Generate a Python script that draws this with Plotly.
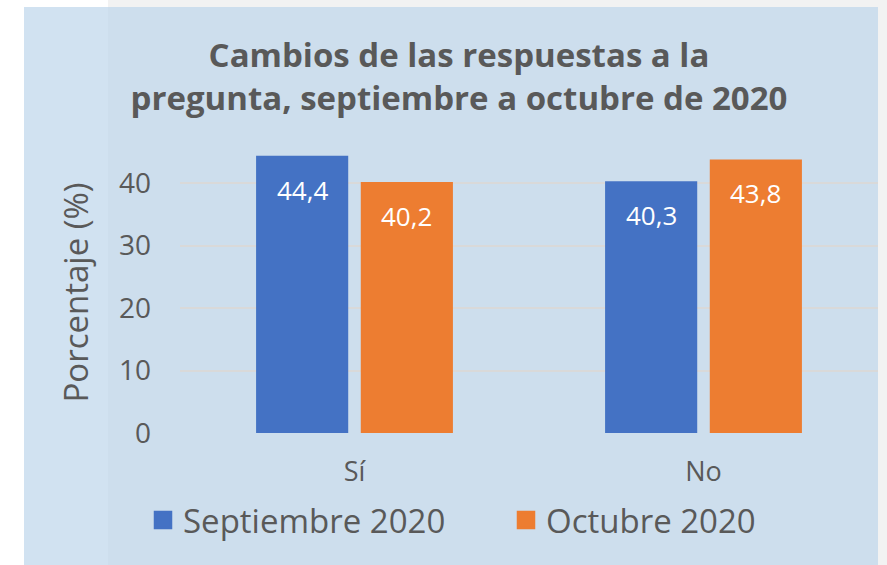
import plotly.graph_objects as go

categories = ["Sí", "No"]
series_names = ["Septiembre 2020", "Octubre 2020"]
sept_values = [44.4, 40.3]
oct_values = [40.2, 43.8]
y_ticks = [0, 10, 20, 30, 40]

colors = ["#4472C4", "#ED7D31"]
W, H = 887, 565
L, R, T, B = 180, 9, 152, 132
pw, ph = W - L - R, H - T - B

def px_x(p):
    return (p - L) / pw

def px_y(p):
    return (H - B - p) / ph

fig = go.Figure()
for name, vals, col in zip(series_names, [sept_values, oct_values], colors):
    fig.add_trace(go.Bar(x=categories, y=vals, name=name, marker_color=col,
                         marker_line_width=0, showlegend=False, hoverinfo="skip"))
# legend proxies
for name, col in zip(series_names, colors):
    fig.add_trace(go.Scatter(x=[None], y=[None], mode="markers", name=name,
                             marker=dict(symbol="square", size=16, color=col,
                                         line=dict(color=col, width=2.5))))

font_fam = "Open Sans, Noto Sans, sans-serif"
annotations = []
offsets = [-52, 52]
for vals, off in zip([sept_values, oct_values], offsets):
    for c, v in zip(categories, vals):
        annotations.append(dict(x=c, y=v, xref="x", yref="y", xshift=off, yshift=-34,
                                text=f"{v:.1f}".replace(".", ","), showarrow=False,
                                yanchor="middle", font=dict(color="white", size=26, family=font_fam)))

shapes = [
    dict(type="rect", xref="paper", yref="paper", x0=px_x(24), x1=px_x(878), y0=px_y(565), y1=px_y(7),
         fillcolor="#CDDEED", line_width=0, layer="below"),
    dict(type="rect", xref="paper", yref="paper", x0=px_x(24), x1=px_x(108), y0=px_y(565), y1=px_y(7),
         fillcolor="#D1E2F1", line_width=0, layer="below"),
    dict(type="rect", xref="paper", yref="paper", x0=px_x(108), x1=px_x(887), y0=px_y(7), y1=px_y(0),
         fillcolor="#F2F2F2", line_width=0, layer="below"),
    dict(type="rect", xref="paper", yref="paper", x0=px_x(878), x1=px_x(887), y0=px_y(565), y1=px_y(0),
         fillcolor="#F2F2F2", line_width=0, layer="below"),
]

fig.update_layout(
    width=W, height=H,
    margin=dict(l=L, r=R, t=T, b=B, autoexpand=False),
    paper_bgcolor="white", plot_bgcolor="rgba(0,0,0,0)",
    barmode="group", bargap=0.4, bargroupgap=0.12,
    title=dict(text="Cambios de las respuestas a la<br>pregunta, septiembre a octubre de 2020",
               x=459 / W, xanchor="center", y=1 - 67 / H, yanchor="middle", yref="container",
               font=dict(family=font_fam, size=33, color="#595959", weight="bold")),
    font=dict(family=font_fam, color="#595959"),
    xaxis=dict(tickfont=dict(size=27, color="#595959"), showgrid=False, zeroline=False,
               ticks="", ticklabelstandoff=20, showline=False, automargin=False),
    yaxis=dict(range=[0, 45], tickvals=y_ticks, tickfont=dict(size=28, color="#595959"),
               showgrid=True, gridcolor="#D9D9D9", gridwidth=2, zeroline=False,
               ticks="", ticklabelstandoff=28, automargin=False,
               title=dict(text="Porcentaje (%)", font=dict(size=33, color="#595959"), standoff=20)),
    legend=dict(orientation="h", x=px_x(143), xanchor="left", y=px_y(520), yanchor="middle",
                font=dict(size=33, color="#595959"), bgcolor="rgba(0,0,0,0)",
                itemclick=False, itemdoubleclick=False, entrywidth=318),
    annotations=annotations,
    shapes=shapes,
)

fig.write_html("out.html", config={"displayModeBar": False},
               post_script="document.body.style.margin='0';document.body.style.overflow='hidden';")
